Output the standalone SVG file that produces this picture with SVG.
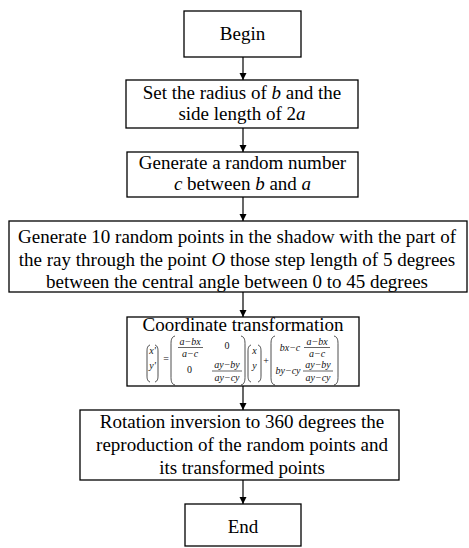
<svg xmlns="http://www.w3.org/2000/svg" width="469" height="548" viewBox="0 0 469 548">
<defs>
<marker id="arr" viewBox="0 0 10 10" refX="10" refY="5" markerWidth="7" markerHeight="9" markerUnits="userSpaceOnUse" orient="auto">
<path d="M0,0 L10,5 L0,10 z" fill="#000"/>
</marker>
</defs>
<style>
.box{fill:#fff;stroke:#000;stroke-width:1.3}
.t{font-family:"Liberation Serif","Times New Roman",serif;font-size:19px;fill:#000;text-anchor:middle}
.i{font-style:italic}
.f{font-family:"Liberation Serif","Times New Roman",serif;font-size:10px;font-style:italic;fill:#111;text-anchor:middle}
.fn{font-style:normal}
.p{fill:none;stroke:#222;stroke-width:0.8}
.bar{stroke:#222;stroke-width:0.7}
.c{stroke:#000;stroke-width:1.2;fill:none}
</style>
<g id="connectors">
<line class="c" x1="243" y1="57" x2="243" y2="80" marker-end="url(#arr)"/>
<line class="c" x1="243" y1="128" x2="243" y2="152" marker-end="url(#arr)"/>
<line class="c" x1="243" y1="197" x2="243" y2="221" marker-end="url(#arr)"/>
<line class="c" x1="243" y1="292" x2="243" y2="317" marker-end="url(#arr)"/>
<line class="c" x1="243" y1="386" x2="243" y2="410" marker-end="url(#arr)"/>
<line class="c" x1="243" y1="480" x2="243" y2="504" marker-end="url(#arr)"/>
</g>
<g id="begin">
<rect class="box" x="184" y="11" width="117" height="46"/>
<text class="t" x="242.5" y="40">Begin</text>
</g>
<g id="set-radius">
<rect class="box" x="126" y="80" width="232" height="48"/>
<text class="t" x="242" y="99">Set the radius of <tspan class="i">b</tspan> and the</text>
<text class="t" x="242" y="120">side length of 2<tspan class="i">a</tspan></text>
</g>
<g id="random-number">
<rect class="box" x="127" y="152" width="231" height="45"/>
<text class="t" x="242.5" y="169">Generate a random number</text>
<text class="t" x="242.5" y="190"><tspan class="i">c</tspan> between  <tspan class="i">b</tspan> and <tspan class="i">a</tspan></text>
</g>
<g id="random-points">
<rect class="box" x="9" y="221" width="458" height="71"/>
<text class="t" x="237" y="243">Generate 10 random points in the shadow with the part of</text>
<text class="t" x="237" y="266">the ray through the point <tspan class="i">O</tspan> those step length of 5 degrees</text>
<text class="t" x="237" y="288">between the central angle between 0 to 45 degrees</text>
</g>
<g id="coordinate-transformation">
<rect class="box" x="127" y="317" width="232" height="69"/>
<text class="t" x="243" y="331">Coordinate transformation</text>
<!-- left vector -->
<path class="p" d="M150,345 C147,346 147,349 147,352 L147,375 C147,378 147,381 150,382"/>
<path class="p" d="M155,345 C158,346 158,349 158,352 L158,375 C158,378 158,381 155,382"/>
<text class="f" x="152.5" y="354">x'</text>
<text class="f" x="152.5" y="369">y'</text>
<text class="f fn" x="166" y="362">=</text>
<!-- matrix -->
<path class="p" d="M175,336 C171,337 171,341 171,345 L171,376 C171,380 171,384 175,385"/>
<path class="p" d="M241,336 C245,337 245,341 245,345 L245,376 C245,380 245,384 241,385"/>
<text class="f" x="190" y="344.5">a−bx</text>
<line class="bar" x1="178" y1="347.5" x2="203" y2="347.5"/>
<text class="f" x="190" y="357">a−c</text>
<text class="f fn" x="227" y="349">0</text>
<text class="f fn" x="189.5" y="373">0</text>
<text class="f" x="227" y="368">ay−by</text>
<line class="bar" x1="212" y1="371" x2="242" y2="371"/>
<text class="f" x="227" y="380.5">ay−cy</text>
<!-- xy vector -->
<path class="p" d="M251,345 C248,346 248,349 248,352 L248,375 C248,378 248,381 251,382"/>
<path class="p" d="M258,345 C261,346 261,349 261,352 L261,375 C261,378 261,381 258,382"/>
<text class="f" x="254.5" y="354">x</text>
<text class="f" x="254.5" y="369">y</text>
<text class="f fn" x="266" y="364">+</text>
<!-- right vector -->
<path class="p" d="M275,336 C271,337 271,341 271,345 L271,376 C271,380 271,384 275,385"/>
<path class="p" d="M334,336 C338,337 338,341 338,345 L338,376 C338,380 338,384 334,385"/>
<text class="f" x="290" y="351">bx−c</text>
<text class="f" x="317" y="344.5">a−bx</text>
<line class="bar" x1="304" y1="347.5" x2="330" y2="347.5"/>
<text class="f" x="317" y="357">a−c</text>
<text class="f" x="288" y="374">by−cy</text>
<text class="f" x="318" y="368">ay−by</text>
<line class="bar" x1="303" y1="371" x2="333" y2="371"/>
<text class="f" x="318" y="380.5">ay−cy</text>
</g>
<g id="rotation-inversion">
<rect class="box" x="80" y="410" width="319" height="70"/>
<text class="t" x="242" y="428">Rotation inversion to 360 degrees the</text>
<text class="t" x="242" y="451">reproduction of the random points and</text>
<text class="t" x="242" y="474">its transformed points</text>
</g>
<g id="end">
<rect class="box" x="185" y="504" width="116" height="42"/>
<text class="t" x="243" y="533">End</text>
</g>
</svg>
